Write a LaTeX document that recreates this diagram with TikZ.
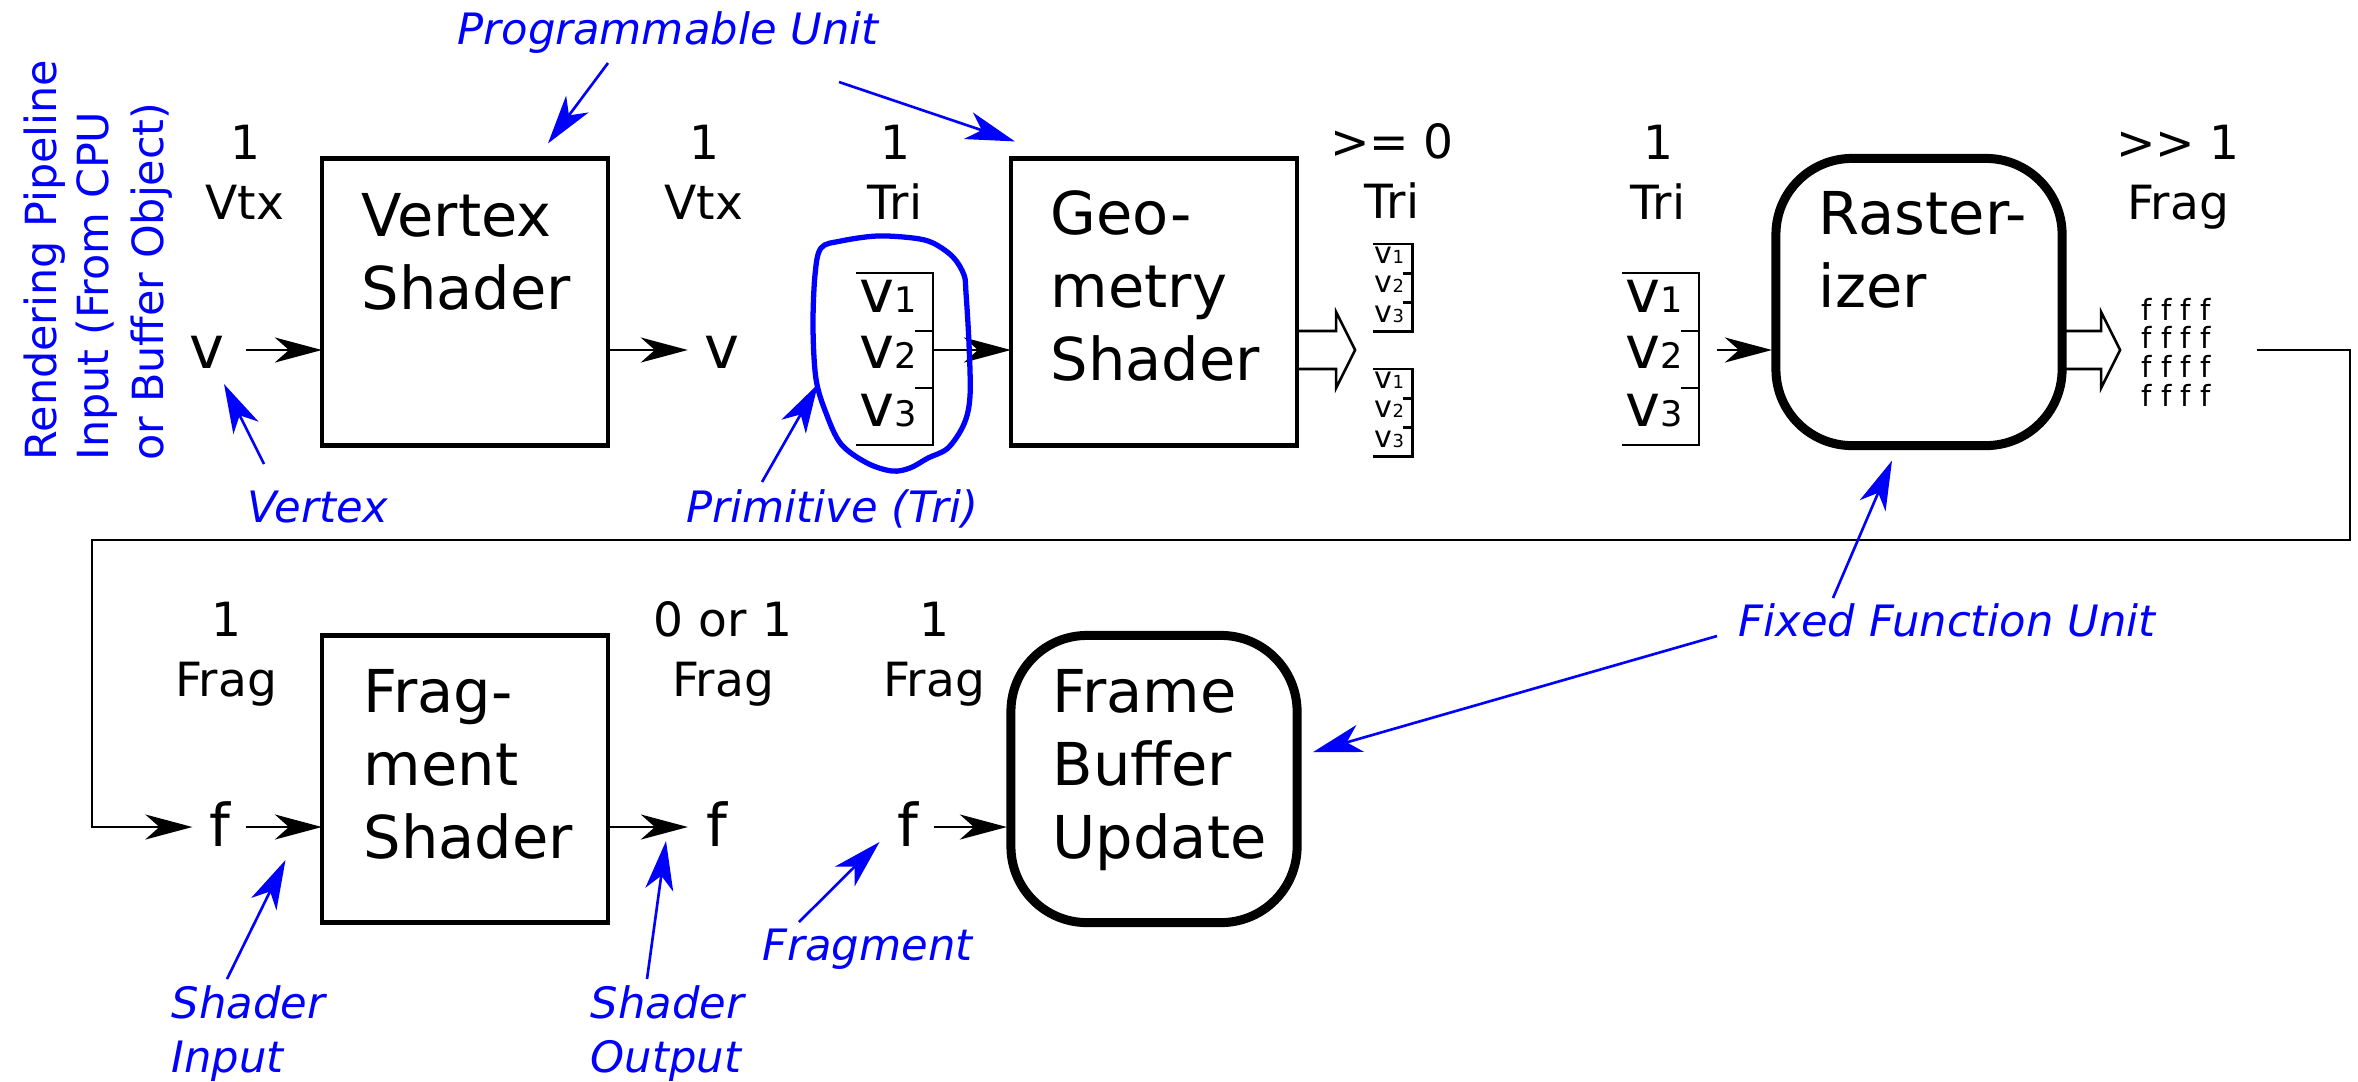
\documentclass[tikz,border=0pt]{standalone}
\usepackage{fontspec}
\setmainfont{DejaVu Sans}
\usetikzlibrary{arrows.meta,calc}
\definecolor{ablue}{RGB}{0,0,255}
\newcommand\Lst[1]{\vtop{\halign{##\hfil\cr#1\crcr}}}
\newcommand\Cst[1]{\vtop{\halign{\hfil##\hfil\cr#1\crcr}}}
\newcommand\vsb[1]{{\fontsize{10}{10}\selectfont #1}}
\tikzset{
 pbox/.style={draw, line width=1.28pt, minimum width=2.86cm, minimum height=2.87cm, inner sep=0pt, outer sep=0pt},
 rbox/.style={pbox, line width=2.56pt, rounded corners=0.76cm},
 btxt/.style={font=\fontsize{16.8}{20.8}\selectfont, inner sep=0pt, anchor=base west},
 ctxt/.style={font=\fontsize{13.4}{17.1}\selectfont, inner sep=0pt, anchor=base},
 letter/.style={font=\fontsize{16.8}{20}\selectfont, inner sep=0pt, anchor=base},
 stkv/.style={font=\fontsize{16.8}{20}\selectfont, inner sep=0pt, anchor=base west},
 arr/.style={line width=0.78pt, -{Stealth[length=0.47cm,width=0.25cm,inset=0.14cm]}},
 thinl/.style={line width=0.72pt},
 hol/.style={line width=0.72pt, line join=miter},
 blab/.style={text=ablue, font=\fontsize{12.3}{15.4}\selectfont\itshape, inner sep=0pt, anchor=base west},
 vlab/.style={text=ablue, font=\fontsize{12.2}{14}\selectfont, inner sep=0pt, anchor=base west, rotate=90},
 barr/.style={draw=ablue, line width=0.75pt, -{Stealth[length=0.49cm,width=0.28cm,inset=0.14cm]}},
 blueloop/.style={draw=ablue, line width=1.5pt},
}
\newcommand\vstack[4]{%
 \begin{scope}[shift={(#2,#3)}, scale=#4, transform shape]
 \draw[thinl] (0,0) -- (77,0) -- (77,172) -- (0,172);
 \draw[thinl] (59,58) -- (77,58) (59,115) -- (77,115);
 \node[stkv] (#1a) at (3,39) {v\vsb{1}};
 \node[stkv] (#1b) at (3,95) {v\vsb{2}};
 \node[stkv] (#1c) at (3,153) {v\vsb{3}};
 \coordinate (#1r) at (77,77);
 \end{scope}}
\begin{document}
\begin{tikzpicture}[x=0.01cm, y=-0.01cm]
\useasboundingbox (0,0) rectangle (2358,1081);
\coordinate (rowA) at (0,350);
\coordinate (rowB) at (0,827);

% boxes
\node[pbox] (vs) at (465,302) {};
\node[pbox] (gs) at (1154,302) {};
\node[rbox] (rast) at (1919,302) {};
\node[pbox] (fs) at (465,779) {};
\node[rbox] (fb) at (1154,779) {};

% box texts
\node[btxt] (vst) at (361,236) {\Lst{Vertex\cr Shader}};
\node[btxt] (gst) at (1050,234) {\Lst{Geo-\cr metry\cr Shader}};
\node[btxt] (rt) at (1818,234) {\Lst{Raster-\cr izer}};
\node[btxt] (fst) at (363,712) {\Lst{Frag-\cr ment\cr Shader}};
\node[btxt] (fbt) at (1052,712) {\Lst{Frame\cr Buffer\cr Update}};

% counts
\node[ctxt] (c1) at (245,159) {\Cst{1\cr Vtx}};
\node[ctxt] (c2) at (704,159) {\Cst{1\cr Vtx}};
\node[ctxt] (c3) at (895,159) {\Cst{1\cr Tri}};
\node[ctxt] (c4) at (1392,158) {\Cst{>= 0\cr Tri}};
\node[ctxt] (c5) at (1658,159) {\Cst{1\cr Tri}};
\node[ctxt] (c6) at (2178,159) {\Cst{>\kern0pt> 1\cr Frag}};
\node[ctxt] (c7) at (226,636) {\Cst{1\cr Frag}};
\node[ctxt] (c8) at (723,636) {\Cst{0 or 1\cr Frag}};
\node[ctxt] (c9) at (934,636) {\Cst{1\cr Frag}};

% letters
\node[letter] (vin) at (207,368) {v};
\node[letter] (vout) at (722,368) {v};
\node[letter] (fin) at (219.5,846) {f};
\node[letter] (fout) at (717,846) {f};
\node[letter] (f3) at (907.5,846) {f};

% stacks
\vstack{sa}{856}{273}{1}
\vstack{sb}{1373}{244}{0.51}
\vstack{sc}{1373}{369}{0.51}
\vstack{sd}{1622}{273}{1}

% fragment grid
\node[font=\fontsize{8.3}{8.17}\selectfont, inner sep=0pt, anchor=base west] (fg) at (2141,320) {\Lst{f f f f\cr f f f f\cr f f f f\cr f f f f}};

% row 1 arrows
\draw[arr] ($(vin.east |- rowA)+(21,0)$) -- (vs.west |- rowA);
\draw[arr] (vs.east |- rowA) -- ($(vout.west |- rowA)+(-16,0)$);
\draw[arr] (sar) -- (gs.west |- sar);
\draw[arr] ($(sdr)+(18,0)$) -- ($(rast.west |- sdr)+(-4,0)$);

% hollow arrows
\draw[hol] (gs.east |- rowA) ++(0,-19) -- ++(39,0) -- ++(0,-19) -- ++(19,38) -- ++(-19,38) -- ++(0,-19) -- ++(-39,0);
\draw[hol] (rast.east |- rowA) ++(0,-19) -- ++(39,0) -- ++(0,-19) -- ++(19,38) -- ++(-19,38) -- ++(0,-19) -- ++(-39,0);

% long connector
\coordinate (cR) at (2350,540);
\coordinate (cL) at (92,827);
\draw[arr] ($(fg.east |- rowA)+(46,0)$) -| (cR) -| (cL) -- ($(fin.west |- rowB)+(-16,0)$);

% row 2 arrows
\draw[arr] ($(fin.east |- rowB)+(15,0)$) -- (fs.west |- rowB);
\draw[arr] (fs.east |- rowB) -- ($(fout.west |- rowB)+(-18,0)$);
\draw[arr] ($(f3.east |- rowB)+(15,0)$) -- ($(fb.west |- rowB)+(-4,0)$);

% blue loop
\draw[blueloop] plot[smooth cycle, tension=0.55] coordinates {(821,248) (841,241) (877,236) (913,238) (933,243) (953,257) (964,275) (966,293) (969,344) (970,396) (964,424) (948,448) (928,458) (910,468) (892,471) (867,463) (841,444) (826,413) (816,379) (813,327) (815,275)};

% blue labels
\node[vlab] (r1) at (56,461) {Rendering Pipeline};
\node[vlab] (r2) at (108,461) {Input (From CPU};
\node[vlab] (r3) at (163,461) {or Buffer Object)};
\node[blab] (prog) at (457,44) {Programmable Unit};
\node[blab] (vtxl) at (247,522) {Vertex};
\node[blab] (priml) at (686,522) {Primitive (Tri)};
\node[blab] (ffu) at (1738,636) {Fixed Function Unit};
\node[blab] (sinl) at (171,1018) {\Lst{Shader\cr Input}};
\node[blab] (soutl) at (590,1018) {\Lst{Shader\cr Output}};
\node[blab] (fragl) at (762,960) {Fragment};
\coordinate (primtip) at (818,384);

% blue arrows
\draw[barr] ($(prog.base west)+(151,19)$) -- ($(vs.north)+(83,-15)$);
\draw[barr] ($(prog.base west)+(382,38)$) -- ($(gs.north west)+(4,-17)$);
\draw[barr] ($(vtxl.base west)+(17,-58)$) -- ($(vin.base)+(17,16)$);
\draw[barr] ($(priml.base west)+(76,-40)$) -- (primtip);
\draw[barr] ($(ffu.base west)+(95,-38)$) -- ($(rast.south)+(-27,15)$);
\draw[barr] ($(ffu.base west)+(-21,0)$) -- ($(fb.east)+(16,-27)$);
\draw[barr] ($(sinl.base west)+(56,-39)$) -- ($(fin.base)+(66,14)$);
\draw[barr] ($(soutl.base west)+(57,-39)$) -- ($(fout.base)+(-51,-5)$);
\draw[barr] ($(fragl.base west)+(37,-38)$) -- ($(f3.base)+(-28,-4)$);
\end{tikzpicture}
\end{document}
